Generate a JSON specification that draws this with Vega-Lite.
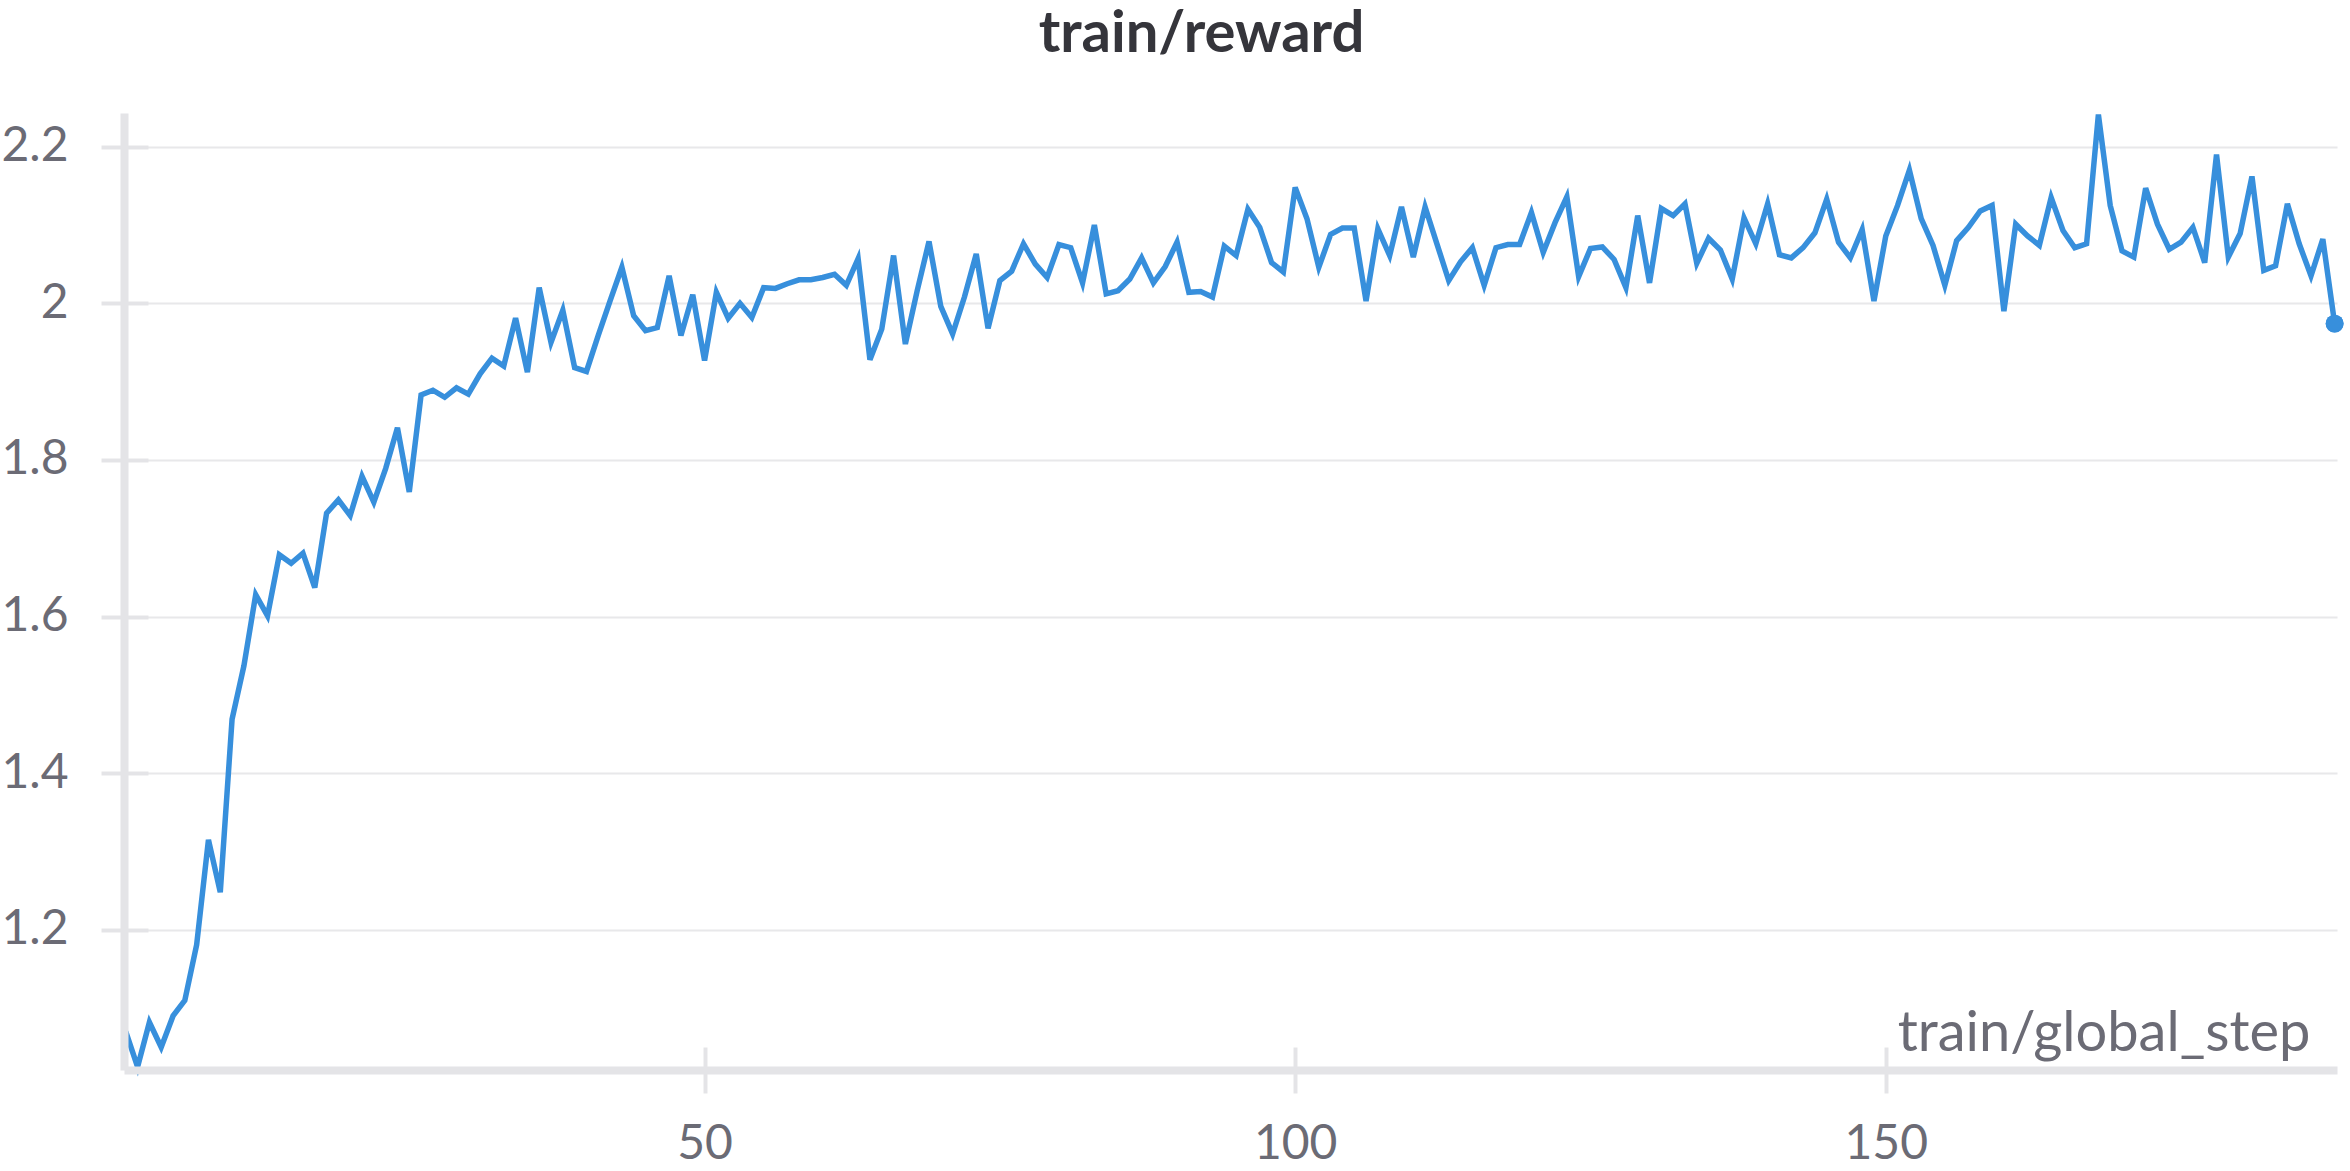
{
  "$schema": "https://vega.github.io/schema/vega-lite/v6.json",
  "width": 2213,
  "height": 957,
  "autosize": "none",
  "padding": {"left": 124, "top": 113, "right": 13, "bottom": 101},
  "background": "white",
  "config": {"view": {"stroke": null}, "font": "Lato"},
  "data": {"values": [
    {"step":1,"reward":1.07},{"step":2,"reward":1.025},{"step":3,"reward":1.082},{"step":4,"reward":1.05},{"step":5,"reward":1.09},
    {"step":6,"reward":1.11},{"step":7,"reward":1.181},{"step":8,"reward":1.315},{"step":9,"reward":1.248},{"step":10,"reward":1.469},
    {"step":11,"reward":1.537},{"step":12,"reward":1.628},{"step":13,"reward":1.601},{"step":14,"reward":1.679},{"step":15,"reward":1.668},
    {"step":16,"reward":1.681},{"step":17,"reward":1.637},{"step":18,"reward":1.732},{"step":19,"reward":1.749},{"step":20,"reward":1.729},
    {"step":21,"reward":1.779},{"step":22,"reward":1.746},{"step":23,"reward":1.789},{"step":24,"reward":1.841},{"step":25,"reward":1.759},
    {"step":26,"reward":1.883},{"step":27,"reward":1.889},{"step":28,"reward":1.88},{"step":29,"reward":1.892},{"step":30,"reward":1.884},
    {"step":31,"reward":1.91},{"step":32,"reward":1.93},{"step":33,"reward":1.92},{"step":34,"reward":1.981},{"step":35,"reward":1.912},
    {"step":36,"reward":2.02},{"step":37,"reward":1.95},{"step":38,"reward":1.991},{"step":39,"reward":1.918},{"step":40,"reward":1.913},
    {"step":41,"reward":1.959},{"step":42,"reward":2.003},{"step":43,"reward":2.046},{"step":44,"reward":1.984},{"step":45,"reward":1.965},
    {"step":46,"reward":1.969},{"step":47,"reward":2.035},{"step":48,"reward":1.959},{"step":49,"reward":2.011},{"step":50,"reward":1.927},
    {"step":51,"reward":2.014},{"step":52,"reward":1.981},{"step":53,"reward":2.0},{"step":54,"reward":1.982},{"step":55,"reward":2.02},
    {"step":56,"reward":2.019},{"step":57,"reward":2.025},{"step":58,"reward":2.03},{"step":59,"reward":2.03},{"step":60,"reward":2.033},
    {"step":61,"reward":2.037},{"step":62,"reward":2.023},{"step":63,"reward":2.057},{"step":64,"reward":1.928},{"step":65,"reward":1.967},
    {"step":66,"reward":2.061},{"step":67,"reward":1.948},{"step":68,"reward":2.016},{"step":69,"reward":2.079},{"step":70,"reward":1.996},
    {"step":71,"reward":1.961},{"step":72,"reward":2.008},{"step":73,"reward":2.063},{"step":74,"reward":1.968},{"step":75,"reward":2.029},
    {"step":76,"reward":2.041},{"step":77,"reward":2.076},{"step":78,"reward":2.05},{"step":79,"reward":2.033},{"step":80,"reward":2.075},
    {"step":81,"reward":2.071},{"step":82,"reward":2.026},{"step":83,"reward":2.1},{"step":84,"reward":2.012},{"step":85,"reward":2.016},
    {"step":86,"reward":2.031},{"step":87,"reward":2.058},{"step":88,"reward":2.026},{"step":89,"reward":2.047},{"step":90,"reward":2.078},
    {"step":91,"reward":2.014},{"step":92,"reward":2.015},{"step":93,"reward":2.008},{"step":94,"reward":2.073},{"step":95,"reward":2.061},
    {"step":96,"reward":2.12},{"step":97,"reward":2.097},{"step":98,"reward":2.052},{"step":99,"reward":2.04},{"step":100,"reward":2.148},
    {"step":101,"reward":2.108},{"step":102,"reward":2.046},{"step":103,"reward":2.088},{"step":104,"reward":2.096},{"step":105,"reward":2.096},
    {"step":106,"reward":2.003},{"step":107,"reward":2.095},{"step":108,"reward":2.061},{"step":109,"reward":2.123},{"step":110,"reward":2.059},
    {"step":111,"reward":2.123},{"step":112,"reward":2.076},{"step":113,"reward":2.029},{"step":114,"reward":2.053},{"step":115,"reward":2.071},
    {"step":116,"reward":2.023},{"step":117,"reward":2.071},{"step":118,"reward":2.075},{"step":119,"reward":2.075},{"step":120,"reward":2.116},
    {"step":121,"reward":2.065},{"step":122,"reward":2.103},{"step":123,"reward":2.136},{"step":124,"reward":2.034},{"step":125,"reward":2.07},
    {"step":126,"reward":2.072},{"step":127,"reward":2.056},{"step":128,"reward":2.02},{"step":129,"reward":2.112},{"step":130,"reward":2.026},
    {"step":131,"reward":2.121},{"step":132,"reward":2.112},{"step":133,"reward":2.127},{"step":134,"reward":2.051},{"step":135,"reward":2.083},
    {"step":136,"reward":2.068},{"step":137,"reward":2.031},{"step":138,"reward":2.109},{"step":139,"reward":2.076},{"step":140,"reward":2.127},
    {"step":141,"reward":2.062},{"step":142,"reward":2.058},{"step":143,"reward":2.071},{"step":144,"reward":2.09},{"step":145,"reward":2.133},
    {"step":146,"reward":2.078},{"step":147,"reward":2.058},{"step":148,"reward":2.094},{"step":149,"reward":2.003},{"step":150,"reward":2.086},
    {"step":151,"reward":2.125},{"step":152,"reward":2.17},{"step":153,"reward":2.108},{"step":154,"reward":2.074},{"step":155,"reward":2.023},
    {"step":156,"reward":2.08},{"step":157,"reward":2.097},{"step":158,"reward":2.118},{"step":159,"reward":2.125},{"step":160,"reward":1.99},
    {"step":161,"reward":2.101},{"step":162,"reward":2.086},{"step":163,"reward":2.074},{"step":164,"reward":2.135},{"step":165,"reward":2.093},
    {"step":166,"reward":2.071},{"step":167,"reward":2.076},{"step":168,"reward":2.241},{"step":169,"reward":2.125},{"step":170,"reward":2.067},
    {"step":171,"reward":2.059},{"step":172,"reward":2.147},{"step":173,"reward":2.101},{"step":174,"reward":2.069},{"step":175,"reward":2.078},
    {"step":176,"reward":2.097},{"step":177,"reward":2.052},{"step":178,"reward":2.19},{"step":179,"reward":2.059},{"step":180,"reward":2.089},
    {"step":181,"reward":2.162},{"step":182,"reward":2.042},{"step":183,"reward":2.048},{"step":184,"reward":2.127},{"step":185,"reward":2.076},
    {"step":186,"reward":2.035},{"step":187,"reward":2.082},{"step":188,"reward":1.974}
  ]},
  "layer": [
    {
      "mark": {"type": "line", "color": "#378fdc", "strokeWidth": 5.5},
      "encoding": {
        "x": {"field": "step", "type": "quantitative",
          "scale": {"domain": [0.85, 188.2], "nice": false, "zero": false},
          "axis": {"orient": "bottom", "values": [50, 100, 150], "grid": false, "domain": false, "labels": false, "title": null,
            "tickColor": "#e4e4e7", "tickWidth": 4, "tickSize": -23, "zindex": 0}},
        "y": {"field": "reward", "type": "quantitative",
          "scale": {"domain": [1.021, 2.243], "nice": false, "zero": false},
          "axis": {"orient": "left", "values": [1.2, 1.4, 1.6, 1.8, 2, 2.2], "grid": true, "gridColor": "#e8e8ea", "gridWidth": 2,
            "domain": false, "labels": false, "title": null,
            "tickColor": "#e4e4e7", "tickWidth": 4, "tickSize": -24, "zindex": 0}}
      }
    },
    {
      "transform": [{"filter": "datum.step == 188"}],
      "mark": {"type": "point", "filled": true, "size": 320, "color": "#378fdc", "opacity": 1},
      "encoding": {
        "x": {"field": "step", "type": "quantitative",
          "axis": {"orient": "bottom", "values": [50, 100, 150], "grid": false,
            "domainColor": "#e4e4e7", "domainWidth": 8,
            "tickColor": "#e4e4e7", "tickWidth": 4, "tickSize": 23,
            "labelFont": "Lato", "labelFontSize": 48, "labelColor": "#6b6b75", "labelPadding": 27,
            "title": "train/global_step", "titleFont": "Lato", "titleFontSize": 56, "titleFontWeight": "normal", "titleColor": "#6b6b75",
            "titleX": 2186, "titleY": -20, "titleAlign": "right", "titleBaseline": "alphabetic", "titleAnchor": null, "zindex": 1}},
        "y": {"field": "reward", "type": "quantitative",
          "axis": {"orient": "left", "values": [1.2, 1.4, 1.6, 1.8, 2, 2.2], "format": "~g", "grid": false,
            "domainColor": "#e4e4e7", "domainWidth": 8,
            "tickColor": "#e4e4e7", "tickWidth": 4, "tickSize": 23,
            "labelFont": "Lato", "labelFontSize": 48, "labelColor": "#6b6b75", "labelPadding": 33,
            "title": null, "zindex": 1}}
      }
    },
    {
      "transform": [{"filter": "datum.step == 188"}],
      "mark": {"type": "point", "filled": true, "size": 320, "color": "#378fdc", "opacity": 1},
      "encoding": {
        "x": {"field": "step", "type": "quantitative",
          "axis": {"orient": "top", "domain": false, "ticks": false, "labels": false, "grid": false,
            "title": "train/reward", "titleFont": "Lato", "titleFontSize": 58, "titleFontWeight": "bold", "titleColor": "#35353b",
            "titleX": 1077, "titleY": -62, "titleAlign": "center", "titleBaseline": "alphabetic", "titleAnchor": null}},
        "y": {"field": "reward", "type": "quantitative", "axis": null}
      }
    }
  ],
  "resolve": {"axis": {"x": "independent", "y": "independent"}}
}
